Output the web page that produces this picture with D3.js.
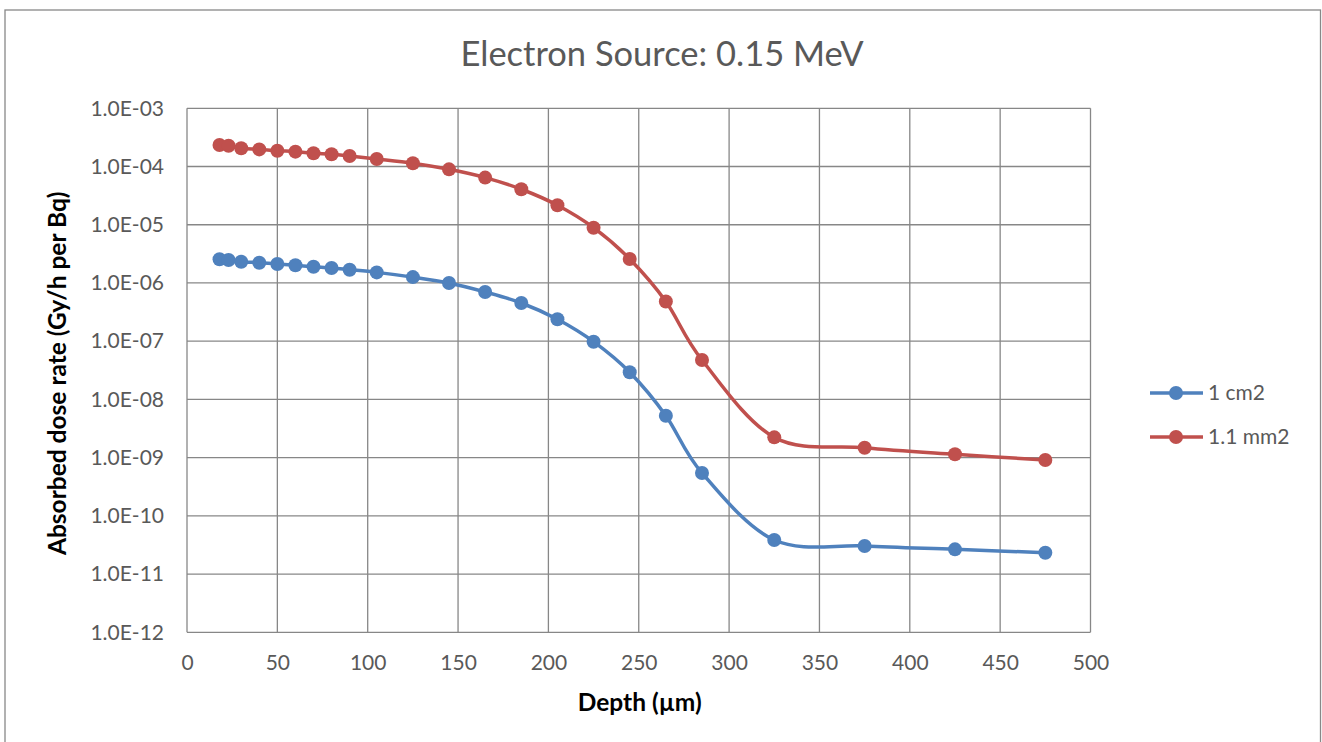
<!DOCTYPE html>
<html><head><meta charset="utf-8">
<script src="https://cdn.jsdelivr.net/npm/d3@7"></script>
<style>html,body{margin:0;padding:0;background:#fff;}svg{display:block;}</style>
</head><body>
<svg id="chart" width="1322" height="742"></svg>
<script>
const depths = [18,23,30,40,50,60,70,80,90,105,125,145,165,185,205,225,245,265,285,325,375,425,475];
const series1Name = "1 cm2";
const series1 = [2.55e-6,2.48e-6,2.32e-6,2.23e-6,2.12e-6,2.01e-6,1.90e-6,1.81e-6,1.69e-6,1.52e-6,1.26e-6,1.0e-6,7.0e-7,4.53e-7,2.38e-7,9.8e-8,2.92e-8,5.25e-9,5.45e-10,3.85e-11,3.03e-11,2.66e-11,2.33e-11];
const series2Name = "1.1 mm2";
const series2 = [2.34e-4,2.28e-4,2.06e-4,1.97e-4,1.87e-4,1.80e-4,1.69e-4,1.62e-4,1.52e-4,1.35e-4,1.14e-4,8.95e-5,6.45e-5,4.07e-5,2.16e-5,8.9e-6,2.58e-6,4.8e-7,4.75e-8,2.23e-9,1.48e-9,1.14e-9,9.1e-10];
const xTicks = [0,50,100,150,200,250,300,350,400,450,500];
const yTicks = [1e-3,1e-4,1e-5,1e-6,1e-7,1e-8,1e-9,1e-10,1e-11,1e-12];
const yTickLabels = ["1.0E-03","1.0E-04","1.0E-05","1.0E-06","1.0E-07","1.0E-08","1.0E-09","1.0E-10","1.0E-11","1.0E-12"];
const titleText = "Electron Source: 0.15 MeV";
const xTitle = "Depth (µm)";
const yTitle = "Absorbed dose rate (Gy/h per Bq)";

const colors = ["#4F81BD","#C0504D"];
const font = "Lato, 'Liberation Sans', sans-serif";
const svg = d3.select("#chart");
const L = 187, R = 1090.5, T = 108.3, B = 632.3;
const x = d3.scaleLinear().domain([0,500]).range([L,R]);
const y = d3.scaleLog().domain([1e-12,1e-3]).range([B,T]);

svg.append("rect").attr("x",5).attr("y",10).attr("width",1315.5).attr("height",760)
  .attr("fill","#fff").attr("stroke","#888").attr("stroke-width",1.3);

// gridlines
const grid = svg.append("g");
grid.selectAll("line.v").data(xTicks).join("line")
  .attr("x1",d=>x(d)).attr("x2",d=>x(d)).attr("y1",T).attr("y2",B)
  .attr("stroke","#878787").attr("stroke-width",1.3);
grid.selectAll("line.h").data(yTicks).join("line")
  .attr("y1",d=>y(d)).attr("y2",d=>y(d)).attr("x1",L).attr("x2",R)
  .attr("stroke","#878787").attr("stroke-width",1.3);

// axes (labels only, via d3 axes)
const xAxis = svg.append("g").attr("transform",`translate(0,${B})`)
  .call(d3.axisBottom(x).tickValues(xTicks).tickSize(0).tickPadding(23));
const yAxis = svg.append("g").attr("transform",`translate(${L},0)`)
  .call(d3.axisLeft(y).tickValues(yTicks).tickFormat((d,i)=>yTickLabels[i]).tickSize(0).tickPadding(23));
[xAxis,yAxis].forEach(a=>{
  a.select(".domain").remove();
  a.selectAll("text").attr("font-family",font).attr("font-size",21).attr("fill","#595959");
});

// series
const line = d3.line().x(d=>x(d[0])).y(d=>y(d[1])).curve(d3.curveCardinal.tension(0));
const allSeries = [{name:series1Name, vals:series1},{name:series2Name, vals:series2}];
allSeries.forEach((s,i)=>{
  const pts = depths.map((d,j)=>[d,s.vals[j]]);
  svg.append("path").datum(pts).attr("d",line).attr("fill","none")
    .attr("stroke",colors[i]).attr("stroke-width",3.5).attr("stroke-linejoin","round");
  svg.append("g").selectAll("circle").data(pts).join("circle")
    .attr("cx",d=>x(d[0])).attr("cy",d=>y(d[1])).attr("r",7).attr("fill",colors[i]);
});

// title
svg.append("text").attr("x",662).attr("y",66).attr("text-anchor","middle")
  .attr("font-family",font).attr("font-size",34.5).attr("fill","#595959").text(titleText);
svg.append("text").attr("x",(L+R)/2+1).attr("y",711).attr("text-anchor","middle")
  .attr("font-family",font).attr("font-size",24.5).attr("font-weight","bold").attr("fill","#000").text(xTitle);
svg.append("text").attr("transform",`translate(66,${(T+B)/2+3}) rotate(-90)`).attr("text-anchor","middle")
  .attr("font-family",font).attr("font-size",24.5).attr("font-weight","bold").attr("fill","#000").text(yTitle);

// legend
const lg = svg.append("g");
allSeries.forEach((s,i)=>{
  const yy = 393 + i*44;
  lg.append("line").attr("x1",1150).attr("x2",1203).attr("y1",yy).attr("y2",yy)
    .attr("stroke",colors[i]).attr("stroke-width",3.5);
  lg.append("circle").attr("cx",1176).attr("cy",yy).attr("r",7).attr("fill",colors[i]);
  lg.append("text").attr("x",1208).attr("y",yy).attr("dy","0.35em")
    .attr("font-family",font).attr("font-size",21).attr("fill","#595959").text(s.name);
});
</script>
</body></html>
